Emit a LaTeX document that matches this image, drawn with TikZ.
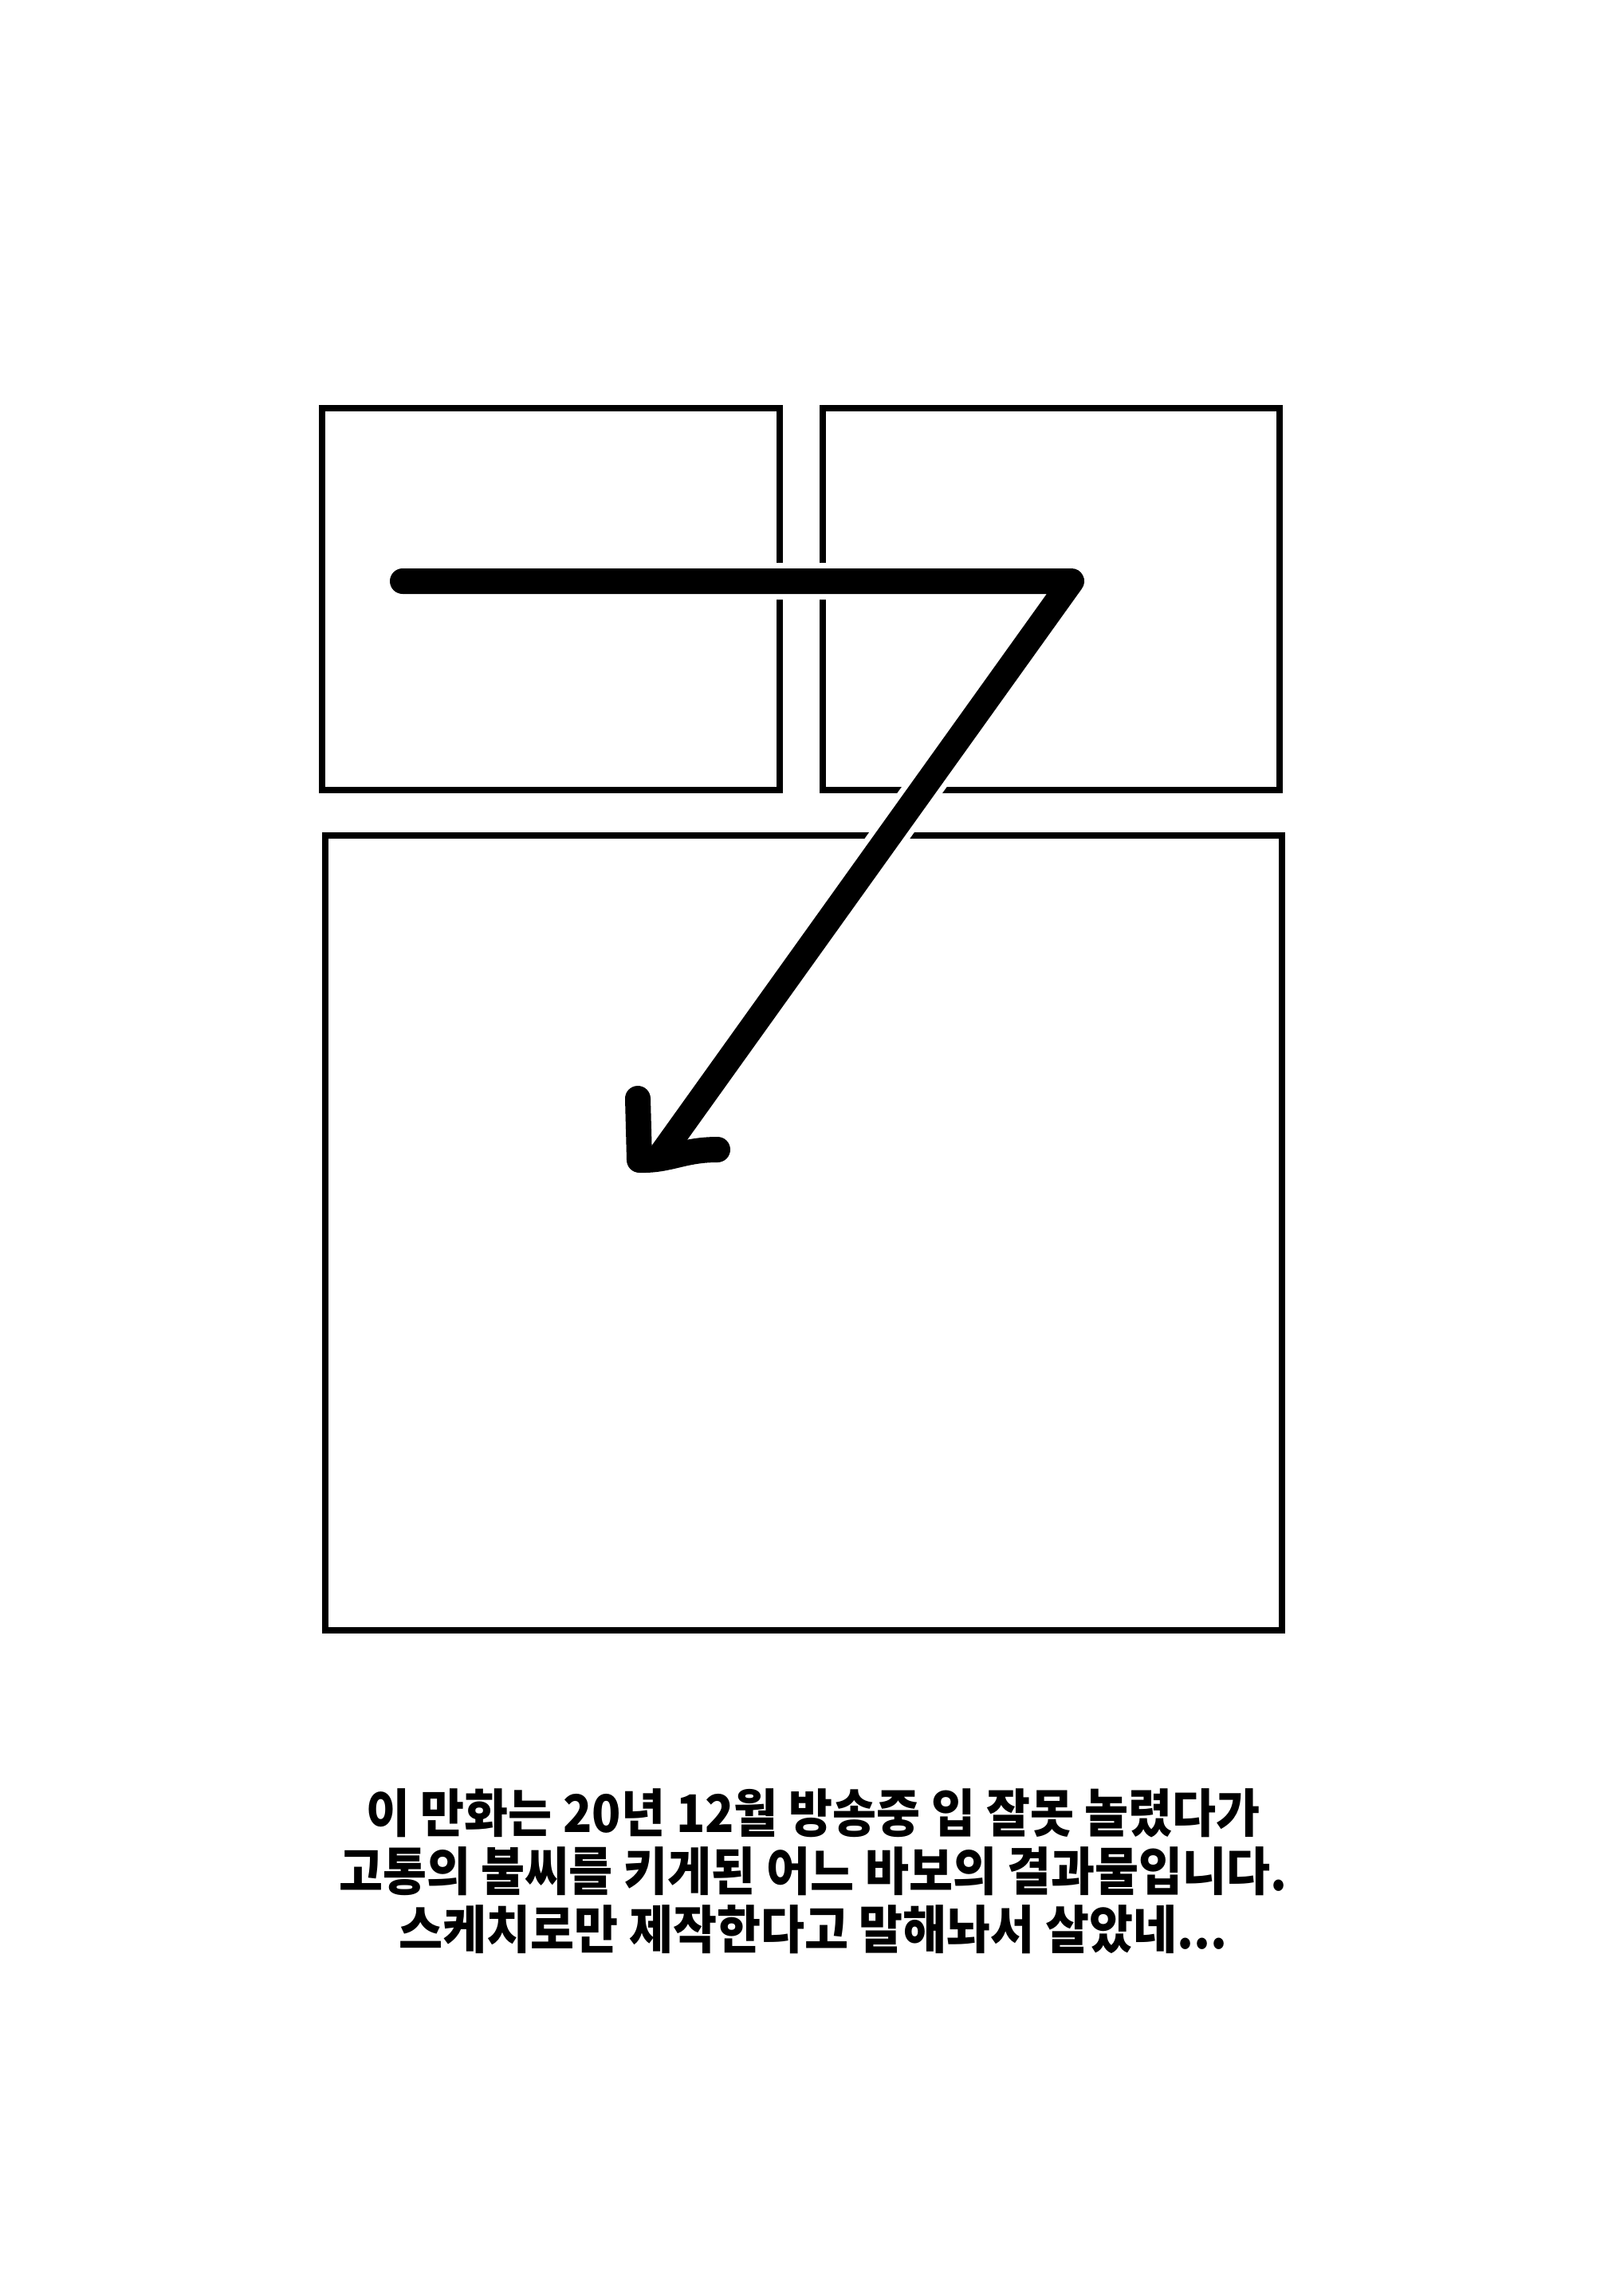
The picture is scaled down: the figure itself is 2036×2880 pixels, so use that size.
\documentclass[tikz,border=0pt]{standalone}
\usepackage{fontspec}
\newfontfamily\cjk[FakeStretch=0.92]{Noto Sans CJK KR}
\tikzset{
every picture/.style={
line width=4pt
}}

\begin{document}
\begin{tikzpicture}[x=0.5pt, y=-0.5pt,
panel/.style = {rectangle, draw=black, inner sep=0pt},
stroke/.style = {line width=16pt, line cap=round, line join=round},
halo/.style = {stroke, draw=white, line width=23pt}]
\useasboundingbox[fill=white] (0,0) rectangle (2036,2880);

\node[panel, minimum width=287pt, minimum height=239.5pt] at (691,751.5) (pa) {};
\node[panel, minimum width=286.5pt, minimum height=239.5pt] at (1318.5,751.5) (pb) {};
\node[panel, minimum width=600pt, minimum height=498.5pt] at (1008,1546.5) (pc) {};

\coordinate (s) at (505,729);
\coordinate (k) at (1344,729);
\coordinate (e) at (830,1447);
\coordinate (ht) at (800,1378);
\coordinate (hc) at (802,1455);
\coordinate (hr) at (900,1442);

\draw[halo] (s) -- (k) -- (e);
\draw[stroke] (s) -- (k) -- (e);
\draw[stroke] (ht) -- (hc) .. controls (840,1456) and (856,1442) .. (hr);

\node[align=center, font=\cjk\bfseries\fontsize{32.5}{36.5}\selectfont] at (1020,2347) (note)
  {이 만화는 20년 12월 방송중 입 잘못 놀렸다가\\
   고통의 불씨를 키게된 어느 바보의 결과물입니다.\\
   스케치로만 제작한다고 말해놔서 살았네...};
\end{tikzpicture}
\end{document}
